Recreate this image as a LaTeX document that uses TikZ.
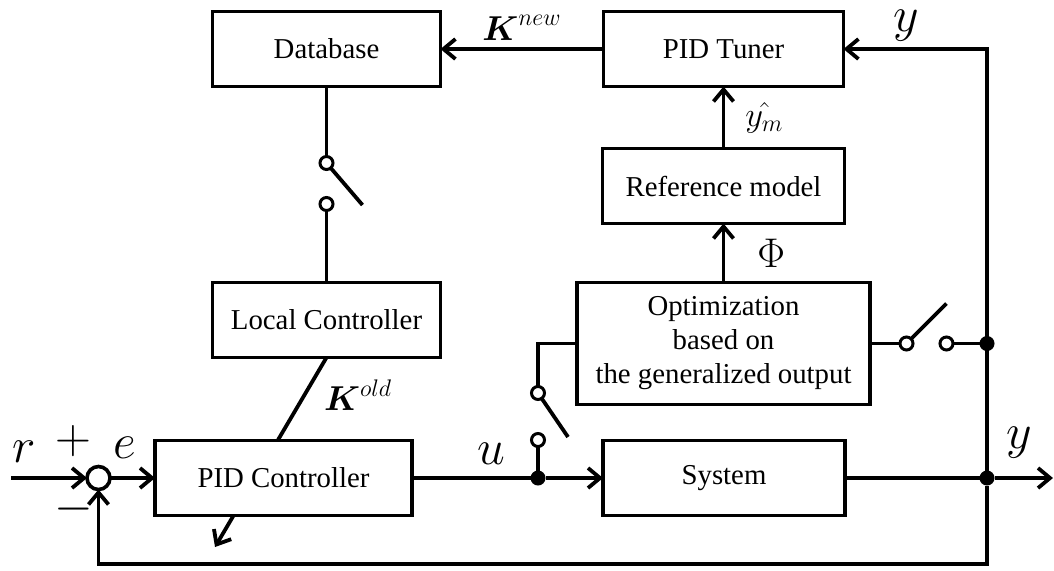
\documentclass[tikz,border=0pt]{standalone}
\usepackage{amsmath}
\usepackage{amssymb}
\usepackage{fontspec}
\setmainfont{Liberation Serif}
\usepackage{tikz}
\usetikzlibrary{arrows.meta, positioning, backgrounds}
\tikzstyle{block} = [rectangle, draw, fill=white, line width=1.9pt, outer sep=0pt,
  minimum height=37.5pt, align=center, font=\fontsize{14.4}{17}\selectfont]
\tikzstyle{arrow} = [line width=1.9pt, -{Straight Barb[length=6pt,width=10pt]}]
\tikzstyle{wire} = [line width=1.9pt]
\tikzstyle{sumnode} = [circle, draw, fill=white, line width=1.8pt, outer sep=0pt,
  minimum size=11.5pt, inner sep=0pt]
\tikzstyle{contact} = [circle, draw, fill=white, line width=1.5pt, outer sep=0pt,
  minimum size=6.5pt, inner sep=0pt]
\tikzstyle{junc} = [circle, fill, minimum size=7.5pt, inner sep=0pt, outer sep=0pt]
\tikzstyle{siglbl} = [inner sep=0pt, font=\fontsize{24.88}{25}\selectfont]
\tikzstyle{gainlbl} = [inner sep=0pt, font=\fontsize{17.28}{18}\selectfont]
\tikzstyle{sign} = [inner sep=0pt, font=\fontsize{24.88}{25}\selectfont]

\begin{document}
\begin{tikzpicture}
  \useasboundingbox (0,0) rectangle (527pt,-285pt);
  \node[block, minimum width=128.5pt] (pidc) at (141.75pt,-239pt) {PID Controller};
  \node[block, minimum width=121pt, right=95.5pt of pidc] (sys) {System};
  \node[block, minimum width=114pt, above=41.5pt of pidc, xshift=21.5pt] (local) {Local Controller};
  \node[block, minimum width=114pt, above=98pt of local] (db) {Database};
  \node[block, minimum width=120pt, right=81.5pt of db] (tuner) {PID Tuner};
  \node[block, minimum width=121pt, below=31pt of tuner] (refm) {Reference model};
  \node[block, minimum width=146.5pt, minimum height=61pt, below=29.5pt of refm] (opt)
    {Optimization\\ based on\\ the generalized output};

  \node[sumnode, left=22.5pt of pidc] (sum) {};
  \node[sign] (plus) at ([shift={(-12.5pt,18.5pt)}]sum.center) {$+$};
  \node[sign] (minus) at ([shift={(-12.5pt,-15.5pt)}]sum.center) {$-$};
  \coordinate (rin) at ([xshift=-38pt]sum.west);
  \node[junc] (ujn) at ([xshift=63pt]pidc.east) {};
  \node[junc] (yjn) at ([xshift=71pt]sys.east) {};
  \coordinate (yout) at ([xshift=33pt]yjn.center);
  \node[junc] (yjn2) at (yjn |- opt.east) {};
  \node[contact, above=12pt of ujn] (sw2a) {};
  \node[contact, above=17pt of sw2a] (sw2b) {};
  \node[contact, right=15pt of opt.east] (sw3a) {};
  \node[contact, right=13.5pt of sw3a] (sw3b) {};
  \node[contact, below=35pt of db] (sw1a) {};
  \node[contact, below=14pt of sw1a] (sw1b) {};
  \coordinate (kend) at (107.5pt,-273.5pt);
  \coordinate (sw1end) at ([shift={(18pt,-21pt)}]sw1a.center);
  \coordinate (sw2end) at ([shift={(15pt,-22pt)}]sw2b.center);
  \coordinate (sw3end) at ([shift={(20pt,20pt)}]sw3a.center);

  \begin{pgfonlayer}{background}
    \draw[arrow] (local.south) -- node[pos=0.2, right=9pt, gainlbl] (kold) {$\boldsymbol{K}^{old}$} (kend);
    \draw[wire] (sw1a.center) -- (sw1end);
    \draw[wire] (sw2b.center) -- (sw2end);
    \draw[wire] (sw3a.center) -- (sw3end);
  \end{pgfonlayer}

  \draw[arrow] (rin) -- node[pos=0.17, above=7pt, siglbl] (rlbl) {$r$} (sum);
  \draw[arrow] (sum) -- node[pos=0.32, above=9pt, siglbl] (elbl) {$e$} (pidc);
  \draw[wire] (pidc) -- node[pos=0.67, above=6pt, siglbl] (ulbl) {$u$} (ujn);
  \draw[arrow] (ujn) -- (sys);
  \draw[wire] (sys) -- (yjn);
  \draw[arrow] (yjn) -- node[pos=0.42, above=9pt, siglbl] (ylbl) {$y$} (yout);
  \draw[arrow] (yjn) -- ++(0,-43pt) -| (sum);
  \draw[arrow] (yjn) |- node[pos=0.78, above=3pt, siglbl] (ytop) {$y$} (tuner);
  \draw[arrow] (tuner) -- node[above=3.5pt, gainlbl] (knew) {$\boldsymbol{K}^{new}$} (db);
  \draw[arrow] (refm) -- node[right=10pt, gainlbl] (ymlbl) {$\hat{y_m}$} (tuner);
  \draw[arrow] (opt) -- node[right=16pt, font=\fontsize{20.74}{21}\selectfont, inner sep=0pt] (philbl) {$\Phi$} (refm);
  \draw[wire] (db) -- (sw1a);
  \draw[wire] (sw1b) -- (local);
  \draw[wire] (ujn) -- (sw2a);
  \draw[wire] (sw2b.north) |- (opt.west);
  \draw[wire] (opt.east) -- (sw3a);
  \draw[wire] (sw3b) -- (yjn2);
\end{tikzpicture}
\end{document}
